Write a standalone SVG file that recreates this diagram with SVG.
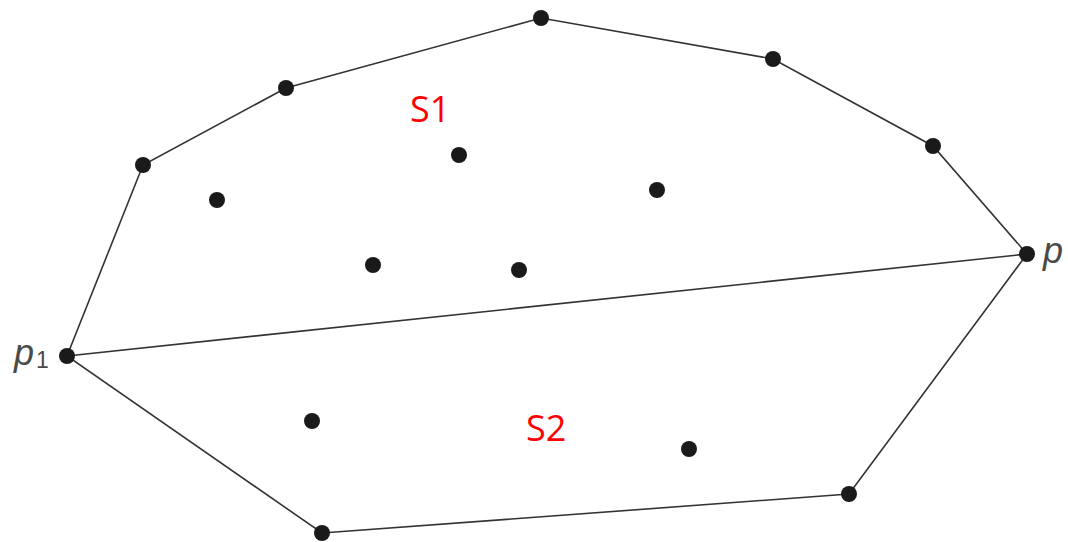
<svg xmlns="http://www.w3.org/2000/svg" width="1068" height="542" viewBox="0 0 1068 542">
<style>
.edge{fill:none;stroke:#333;stroke-width:1.6}
.pt{fill:#1a1a1a}
.lab{font-family:"Open Sans","Liberation Sans",sans-serif;font-size:36px;fill:#ff0000}
.pl{font-family:"Liberation Sans",sans-serif;font-style:italic;font-size:36px;fill:#4a4a4a}
.sub{font-family:"Liberation Sans",sans-serif;font-size:23px;fill:#4a4a4a}
</style>
<rect width="1068" height="542" fill="#fff"/>
<g id="connectors">
<polygon class="edge" points="67,356 143,165 286,88 541,18 773,59 933,146 1027,254 849,494 322,533"/>
<line class="edge" x1="67" y1="356" x2="1027" y2="254"/>
</g>
<g id="p1"><circle class="pt" cx="67" cy="356" r="8"/><text class="pl" x="14" y="365">p</text><text class="sub" x="36" y="368">1</text></g>
<g id="pn"><circle class="pt" cx="1027" cy="254" r="8"/><text class="pl" x="1043" y="263">p</text></g>
<g id="h1"><circle class="pt" cx="143" cy="165" r="8"/></g>
<g id="h2"><circle class="pt" cx="286" cy="88" r="8"/></g>
<g id="h3"><circle class="pt" cx="541" cy="18" r="8"/></g>
<g id="h4"><circle class="pt" cx="773" cy="59" r="8"/></g>
<g id="h5"><circle class="pt" cx="933" cy="146" r="8"/></g>
<g id="h6"><circle class="pt" cx="849" cy="494" r="8"/></g>
<g id="h7"><circle class="pt" cx="322" cy="533" r="8"/></g>
<g id="i1"><circle class="pt" cx="459" cy="155" r="8"/></g>
<g id="i2"><circle class="pt" cx="217" cy="200" r="8"/></g>
<g id="i3"><circle class="pt" cx="657" cy="190" r="8"/></g>
<g id="i4"><circle class="pt" cx="373" cy="265" r="8"/></g>
<g id="i5"><circle class="pt" cx="519" cy="270" r="8"/></g>
<g id="i6"><circle class="pt" cx="312" cy="421" r="8"/></g>
<g id="i7"><circle class="pt" cx="689" cy="449" r="8"/></g>
<g id="S1"><text class="lab" x="410" y="122">S1</text></g>
<g id="S2"><text class="lab" x="526" y="441">S2</text></g>
</svg>
